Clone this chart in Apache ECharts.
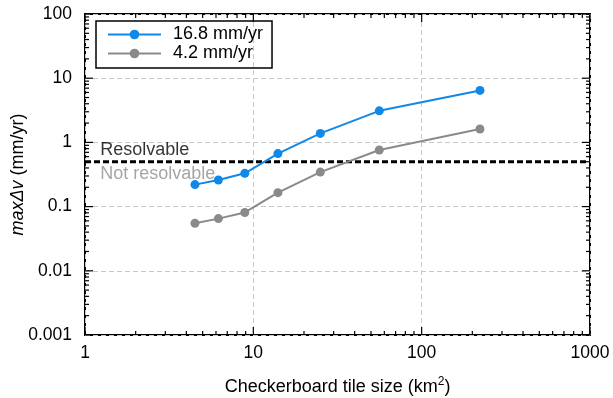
<!DOCTYPE html>
<html>
<head>
<meta charset="utf-8">
<script src="https://cdn.jsdelivr.net/npm/echarts@6/dist/echarts.min.js"></script>
<style>
  html, body { margin: 0; padding: 0; background: #fff; }
  #chart { width: 613px; height: 398px; }
</style>
</head>
<body>
<div id="chart"></div>
<script>
// Checkerboard tile sizes (km^2)
const tileSizes = [4.5, 6.2, 8.9, 14, 25, 56, 222];
// maxΔv for each input rate (mm/yr)
const rate168 = [0.22, 0.26, 0.33, 0.67, 1.38, 3.1, 6.45];
const rate42 = [0.055, 0.065, 0.081, 0.165, 0.345, 0.76, 1.62];
// Resolution threshold (mm/yr)
const threshold = 0.5;
const seriesNames = ['16.8 mm/yr', '4.2 mm/yr'];
const xRange = [1, 1000];
const yRange = [0.001, 100];

const FONT = '"Liberation Sans", Arial, Helvetica, sans-serif';
const BLUE = '#1088e8';
const GREY = '#8a8a8a';

const chart = echarts.init(document.getElementById('chart'), null, { renderer: 'canvas' });

function pairs(xs, ys) { return xs.map((x, i) => [x, ys[i]]); }
function fmt(v) { return String(Number(v.toPrecision(3))); }

// Minor/major inside ticks on all four sides of the frame (log decades)
function logTicks(lo, hi) {
  const out = [];
  const e0 = Math.round(Math.log10(lo)), e1 = Math.round(Math.log10(hi));
  for (let e = e0; e <= e1; e++) {
    for (let k = 1; k <= 9; k++) {
      const v = k * Math.pow(10, e);
      if (v > hi * 1.0001) break;
      out.push({ v: v, major: k === 1 });
    }
  }
  return out;
}

function renderFrameTicks(params, api) {
  const children = [];
  const style = { stroke: '#000', lineWidth: 1.2 };
  logTicks(xRange[0], xRange[1]).forEach(t => {
    const len = t.major ? 8 : 4;
    const pb = api.coord([t.v, yRange[0]]);
    const pt = api.coord([t.v, yRange[1]]);
    children.push({ type: 'line', shape: { x1: pb[0], y1: pb[1], x2: pb[0], y2: pb[1] - len }, style });
    children.push({ type: 'line', shape: { x1: pt[0], y1: pt[1], x2: pt[0], y2: pt[1] + len }, style });
  });
  logTicks(yRange[0], yRange[1]).forEach(t => {
    const len = t.major ? 8 : 4;
    const pl = api.coord([xRange[0], t.v]);
    const pr = api.coord([xRange[1], t.v]);
    children.push({ type: 'line', shape: { x1: pl[0], y1: pl[1], x2: pl[0] + len, y2: pl[1] }, style });
    children.push({ type: 'line', shape: { x1: pr[0], y1: pr[1], x2: pr[0] - len, y2: pr[1] }, style });
  });
  return { type: 'group', children };
}

const option = {
  animation: false,
  backgroundColor: '#fff',
  textStyle: { fontFamily: FONT },
  grid: {
    left: 85, top: 14, right: 23, bottom: 63,
    containLabel: false, outerBoundsMode: 'none',
    show: true, borderColor: '#000', borderWidth: 2, backgroundColor: 'transparent'
  },
  legend: {
    orient: 'vertical',
    left: 96, top: 21,
    padding: [4, 9, 5, 11],
    borderColor: '#000', borderWidth: 1.5,
    itemWidth: 53, itemHeight: 12, itemGap: 0,
    data: seriesNames,
    textStyle: { fontFamily: FONT, fontSize: 18, color: '#000', lineHeight: 19, padding: [0, 0, 0, 7] }
  },
  xAxis: {
    type: 'log', logBase: 10, min: xRange[0], max: xRange[1], interval: 1,
    name: 'Checkerboard tile size (km{sup|2})',
    nameLocation: 'middle', nameGap: 41, nameMoveOverlap: false,
    nameTextStyle: {
      fontFamily: FONT, fontSize: 18, color: '#000', lineHeight: 22,
      rich: { sup: { fontFamily: FONT, fontSize: 12, verticalAlign: 'top', lineHeight: 22, color: '#000' } }
    },
    axisLine: { show: false },
    axisTick: { show: false },
    minorTick: { show: false },
    axisLabel: { fontFamily: FONT, fontSize: 17.5, color: '#000', margin: 9, formatter: fmt },
    splitLine: { show: true, lineStyle: { color: '#c8c8c8', type: [5, 3], width: 1 } }
  },
  yAxis: {
    type: 'log', logBase: 10, min: yRange[0], max: yRange[1], interval: 1,
    name: '{i|maxΔv} (mm/yr)',
    nameLocation: 'middle', nameGap: 58, nameMoveOverlap: false,
    nameTextStyle: {
      fontFamily: FONT, fontSize: 18, color: '#000',
      rich: { i: { fontFamily: FONT, fontSize: 18, fontStyle: 'italic', color: '#000' } }
    },
    axisLine: { show: false },
    axisTick: { show: false },
    minorTick: { show: false },
    axisLabel: { fontFamily: FONT, fontSize: 17.5, color: '#000', margin: 13, formatter: fmt },
    splitLine: { show: true, lineStyle: { color: '#c8c8c8', type: [5, 3], width: 1 } }
  },
  series: [
    {
      name: 'threshold',
      type: 'line',
      data: [[xRange[0], threshold], [xRange[1], threshold]],
      showSymbol: false, symbol: 'none',
      lineStyle: { color: '#000', width: 3, type: [6, 3] },
      silent: true, z: 3
    },
    {
      name: 'threshold labels',
      type: 'scatter',
      symbolSize: 0,
      silent: true,
      data: [
        { value: [1.23, threshold], label: { formatter: 'Resolvable', color: '#000', offset: [0, -12] } },
        { value: [1.23, threshold], label: { formatter: 'Not resolvable', color: '#8f8f8f', offset: [0, 12] } }
      ],
      label: { show: true, position: 'right', distance: 0, fontFamily: FONT, fontSize: 18 },
      z: 4
    },
    {
      name: seriesNames[0],
      type: 'line',
      data: pairs(tileSizes, rate168),
      symbol: 'circle', symbolSize: 9,
      color: BLUE,
      lineStyle: { color: BLUE, width: 2 },
      itemStyle: { color: BLUE },
      z: 5
    },
    {
      name: seriesNames[1],
      type: 'line',
      data: pairs(tileSizes, rate42),
      symbol: 'circle', symbolSize: 9,
      color: GREY,
      lineStyle: { color: GREY, width: 2 },
      itemStyle: { color: GREY },
      z: 5
    },
    {
      name: 'frame ticks',
      type: 'custom',
      silent: true,
      clip: false,
      data: [[xRange[0], yRange[0]]],
      renderItem: renderFrameTicks,
      z: 6
    }
  ]
};

chart.setOption(option);
</script>
</body>
</html>
